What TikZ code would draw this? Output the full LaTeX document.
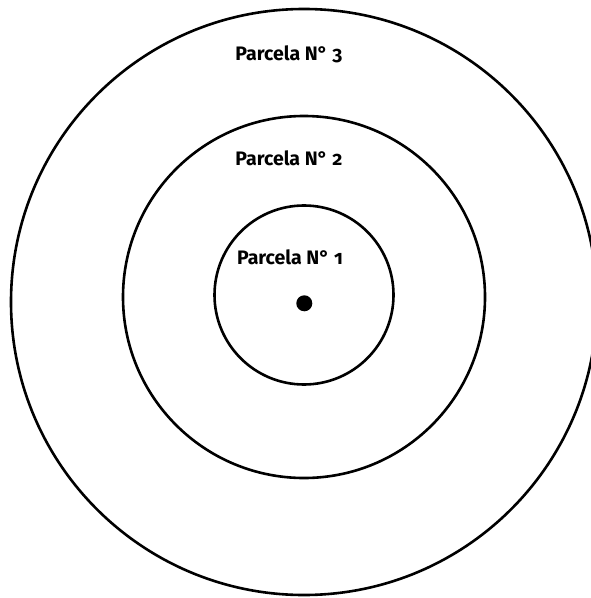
\documentclass[tikz,border=0pt]{standalone}
\usepackage{fontspec}
\setmainfont{Fira Sans}[Numbers=OldStyle]
\tikzset{
  ring/.style={draw=black, line width=2.6bp, circle, inner sep=0pt},
  lbl/.style={font=\fontsize{19.5bp}{22bp}\selectfont\bfseries, inner sep=0pt, anchor=base}
}
\begin{document}
\begin{tikzpicture}[x=1bp,y=-1bp]
\useasboundingbox (0,0) rectangle (591,598);
\clip (0,0) rectangle (591,598);
\fill[white] (0,0) rectangle (591,598);
\node[ring, minimum size=586bp] (outer) at (304,302) {};
\node[ring, minimum size=362bp] (middle) at (304,297) {};
\node[ring, minimum size=179bp] (inner) at (304,295) {};
\node[fill=black, circle, inner sep=0pt, minimum size=16bp] (dot) at (304.3,303.3) {};
\node[lbl] (l3) at (289,61) {Parcela N° 3};
\node[lbl] (l2) at (289,166) {Parcela N° 2};
\node[lbl] (l1) at (290,264) {Parcela N° 1};
\end{tikzpicture}
\end{document}
